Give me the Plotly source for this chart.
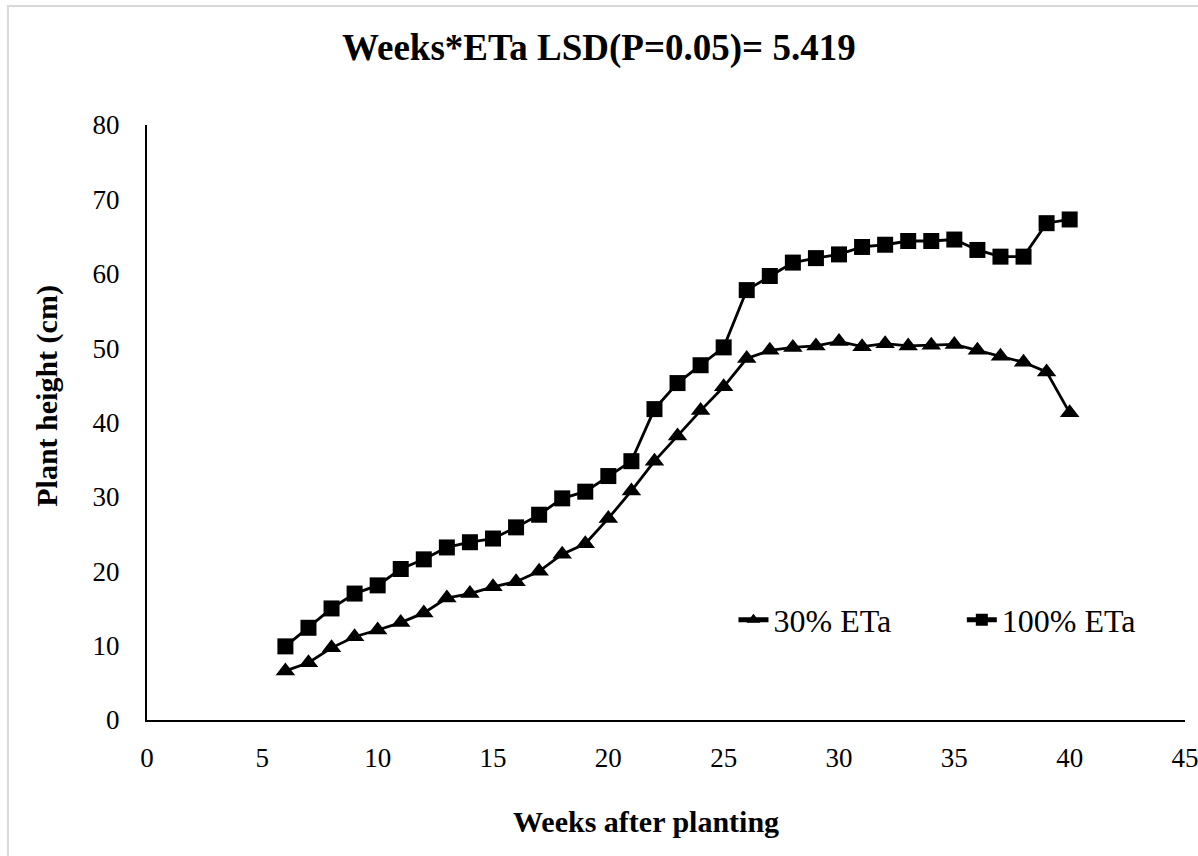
import plotly.graph_objects as go

# Weeks after planting
weeks = list(range(6, 41))

# Plant height (cm) under 30% ETa irrigation
eta_30 = [6.6, 7.7, 9.7, 11.2, 12.1, 13.1, 14.4, 16.4, 17.0, 17.9,
          18.6, 20.0, 22.3, 23.7, 27.1, 30.8, 34.8, 38.2, 41.6, 44.8,
          48.6, 49.7, 50.1, 50.3, 50.9, 50.2, 50.6, 50.3, 50.4, 50.5,
          49.7, 48.9, 48.1, 46.8, 41.3]

# Plant height (cm) under 100% ETa irrigation
eta_100 = [9.9, 12.4, 15.0, 17.0, 18.1, 20.3, 21.6, 23.2, 23.9, 24.4,
           25.9, 27.6, 29.8, 30.7, 32.8, 34.8, 41.8, 45.3, 47.7, 50.1,
           57.8, 59.7, 61.5, 62.1, 62.6, 63.6, 63.9, 64.4, 64.4, 64.6,
           63.2, 62.3, 62.3, 66.8, 67.3]

x_ticks = [0, 5, 10, 15, 20, 25, 30, 35, 40, 45]
y_ticks = [0, 10, 20, 30, 40, 50, 60, 70, 80]

title_text = "Weeks*ETa LSD(P=0.05)= 5.419"
x_title = "Weeks after planting"
y_title = "Plant height (cm)"

SERIF = "Liberation Serif, Times New Roman, serif"

fig = go.Figure()
fig.add_trace(go.Scatter(
    x=weeks, y=eta_30, name="30% ETa", mode="lines+markers",
    line=dict(color="black", width=2.8),
    marker=dict(symbol="triangle-up", size=17, color="black"),
    legend="legend",
))
fig.add_trace(go.Scatter(
    x=weeks, y=eta_100, name="100% ETa", mode="lines+markers",
    line=dict(color="black", width=2.8),
    marker=dict(symbol="square", size=16, color="black"),
    legend="legend2",
))

legend_common = dict(
    orientation="h", yanchor="middle", xanchor="left",
    font=dict(family=SERIF, size=32, color="black"),
    bgcolor="rgba(0,0,0,0)", itemsizing="constant",
)

fig.update_layout(
    width=1198, height=856,
    margin=dict(l=147, r=13, t=125, b=136, autoexpand=False),
    paper_bgcolor="white", plot_bgcolor="white",
    showlegend=True,
    legend=dict(x=0.565, y=0.168, **legend_common),
    legend2=dict(x=0.785, y=0.168, **legend_common),
    xaxis=dict(
        range=[0, 45], tickvals=x_ticks, showgrid=False, zeroline=False,
        showline=True, linecolor="black", linewidth=2, automargin=False,
        ticks="", ticklabelstandoff=13, ticklabeloverflow="allow",
        tickfont=dict(family=SERIF, size=27, color="black"),
    ),
    yaxis=dict(
        range=[0, 80], tickvals=y_ticks, showgrid=False, zeroline=False,
        showline=True, linecolor="black", linewidth=2, automargin=False,
        ticks="", ticklabelstandoff=20, ticklabeloverflow="allow",
        tickfont=dict(family=SERIF, size=27, color="black"),
    ),
    shapes=[dict(
        type="rect", xref="paper", yref="paper",
        x0=-0.134, x1=1.2, y0=-0.6, y1=1.2,
        line=dict(color="#d9d9d9", width=2), fillcolor="rgba(0,0,0,0)",
        layer="below",
    )],
    annotations=[
        dict(text=f"<b>{title_text}</b>", xref="paper", yref="paper",
             x=0.4355, y=1.129, xanchor="center", yanchor="middle",
             showarrow=False, font=dict(family=SERIF, size=37, color="black")),
        dict(text=f"<b>{x_title}</b>", xref="paper", yref="paper",
             x=0.4807, y=-0.1714, xanchor="center", yanchor="middle",
             showarrow=False, font=dict(family=SERIF, size=30, color="black")),
        dict(text=f"<b>{y_title}</b>", xref="paper", yref="paper",
             x=-0.0963, y=0.545, xanchor="center", yanchor="middle",
             textangle=-90, showarrow=False,
             font=dict(family=SERIF, size=30, color="black")),
    ],
)

fig.write_html("out.html")
